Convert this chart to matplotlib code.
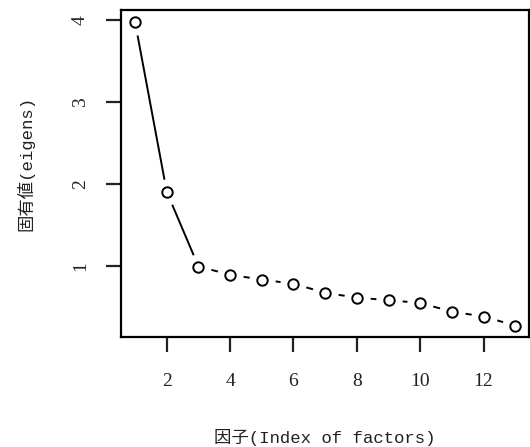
import matplotlib
matplotlib.use("Agg")
import matplotlib.pyplot as plt

# eigenvalues
factors = list(range(1, 14))
eigens = [3.97, 1.90, 0.99, 0.89, 0.83, 0.78, 0.67, 0.61, 0.58, 0.545, 0.44, 0.38, 0.27]
xticks = [2, 4, 6, 8, 10, 12]
yticks = [1, 2, 3, 4]
xlabel = "因子(Index of factors)"
ylabel = "固有値(eigens)"

label_font = ["Liberation Mono", "Noto Sans CJK JP"]
plt.rcParams["font.family"] = ["Liberation Serif", "Noto Sans CJK JP"]

fig = plt.figure(figsize=(5.3, 4.47), dpi=100)
ax = fig.add_axes([0.228, 0.246, 0.771, 0.732])

# R style type="b": line with gaps around the points
ax.plot(factors, eigens, color="black", lw=1.4, zorder=1)
ax.plot(factors, eigens, "o", ms=18, mfc="white", mec="white", zorder=1.5)
ax.plot(factors, eigens, "o", ms=7.5, mfc="white", mec="black", mew=1.4, zorder=3)

ax.set_xlim(0.55, 13.45)
ax.set_ylim(0.13, 4.12)
ax.set_xticks(xticks)
ax.set_yticks(yticks)

for s in ax.spines.values():
    s.set_linewidth(1.6)
ax.tick_params(length=11, width=1.6, labelsize=14, colors="#222222")
ax.tick_params(axis="x", pad=15)
ax.tick_params(axis="y", pad=12, labelrotation=90)
for t in ax.get_yticklabels():
    t.set_va("center")

ax.set_xlabel(xlabel, family=label_font, fontsize=12.5, labelpad=28, color="#222222")
ax.set_ylabel(ylabel, family=label_font, fontsize=12.5, color="#222222")
ax.yaxis.set_label_coords(-0.212, 0.53)

fig.savefig("out.png", dpi=100)
